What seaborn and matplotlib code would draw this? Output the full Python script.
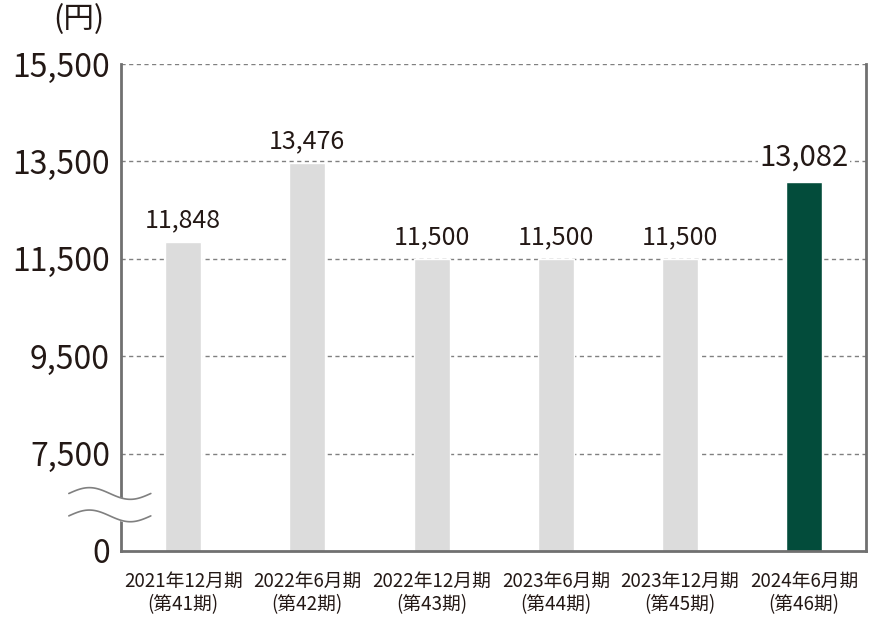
import numpy as np
import pandas as pd
import seaborn as sns
import matplotlib.pyplot as plt

# data
periods = ["2021年12月期\n(第41期)", "2022年6月期\n(第42期)", "2022年12月期\n(第43期)",
           "2023年6月期\n(第44期)", "2023年12月期\n(第45期)", "2024年6月期\n(第46期)"]
values = [11848, 13476, 11500, 11500, 11500, 13082]
tick_pos = [5500, 7500, 9500, 11500, 13500, 15500]
tick_labels = ["0", "7,500", "9,500", "11,500", "13,500", "15,500"]

df = pd.DataFrame({"period": periods, "value": values})

sns.set_theme(style="white")
plt.rcParams['font.family'] = ['Noto Sans CJK JP', 'DejaVu Sans']
text_col = "#231815"
gray = "#dcdcdc"
green = "#034c3b"

fig = plt.figure(figsize=(8.8, 6.34), dpi=100)
ax = fig.add_axes([0.1375, 0.131, 0.847, 0.768])

palette = [gray] * 5 + [green]
sns.barplot(data=df, x="period", y="value", hue="period", palette=palette,
            width=0.29, legend=False, ax=ax, saturation=1)

# broken axis: the "0" tick sits where 5,500 would be
ax.set_ylim(5500, 15500)
ax.set_xlim(-0.5, len(periods) - 0.5)
ax.set_yticks(tick_pos)
ax.set_yticklabels(tick_labels, fontsize=23, color=text_col)
ax.tick_params(axis="y", length=0, pad=8)
ax.tick_params(axis="x", length=0, pad=14)
ax.set_xticks(range(len(periods)))
ax.set_xticklabels(periods, fontsize=13.5, color=text_col, linespacing=1.15)
ax.set_xlabel("")
ax.set_ylabel("")

ax.set_axisbelow(True)
for y in tick_pos[1:]:
    ax.axhline(y, color="#808080", linestyle=(0, (3, 2.5)), linewidth=1, zorder=0)

for side in ["left", "bottom", "right"]:
    ax.spines[side].set_color("#707070")
    ax.spines[side].set_linewidth(2)
ax.spines["top"].set_visible(False)

# value labels
for i, v in enumerate(values):
    last = i == len(values) - 1
    ax.text(i, v + 180, f"{v:,}", ha="center", va="bottom",
            fontsize=21 if last else 18, color=text_col,
            bbox=dict(facecolor="white", edgecolor="none", pad=1) if last else None,
            zorder=5)

# break mark on the y axis
xs = np.linspace(-0.07, 0.04, 60)
wave = 0.012 * np.sin((xs + 0.07) / 0.11 * 2 * np.pi)
y1 = 0.118 + wave
y2 = 0.072 + wave
ax.fill_between(xs, y1, y2, color="white", transform=ax.transAxes, clip_on=False, zorder=6)
ax.plot(xs, y1, color="#808080", lw=1.2, transform=ax.transAxes, clip_on=False, zorder=7)
ax.plot(xs, y2, color="#808080", lw=1.2, transform=ax.transAxes, clip_on=False, zorder=7)

fig.text(0.06, 0.97, "(円)", fontsize=22, color=text_col, ha="left", va="center")

fig.savefig("out.png", dpi=100, facecolor="white")
